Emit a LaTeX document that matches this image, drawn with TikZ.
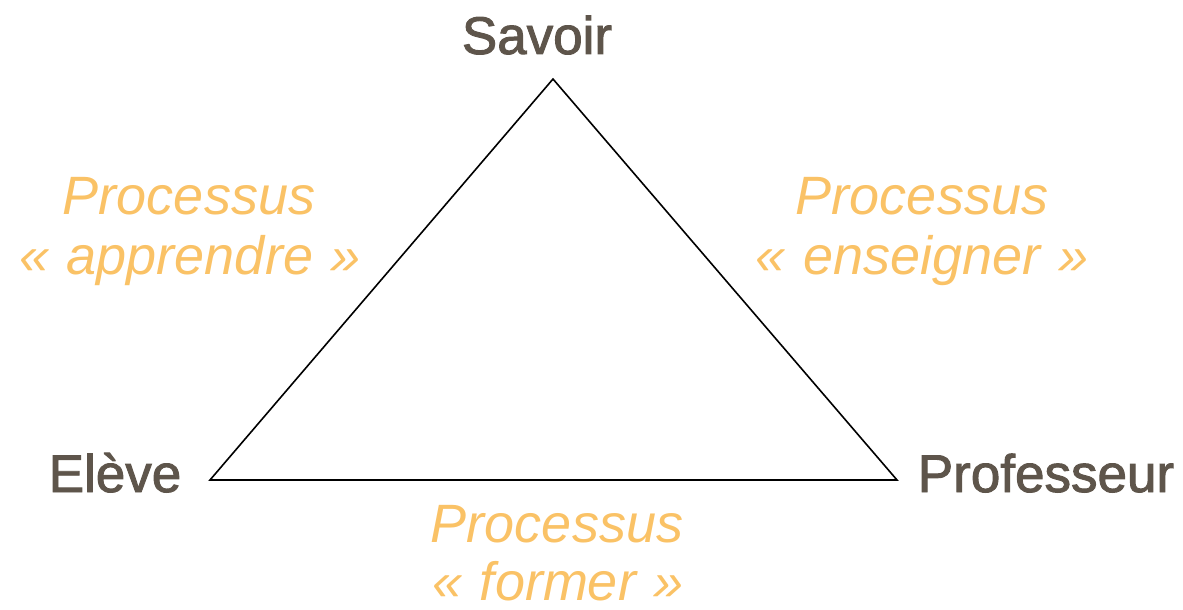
\documentclass[tikz,border=0pt]{standalone}
\usepackage{fontspec}
\setmainfont{Liberation Sans}
\newfontfamily\vfont[FakeBold=1.8]{Liberation Sans}
\definecolor{vertex}{HTML}{5E554B}
\definecolor{proc}{HTML}{FAC266}
\newcommand{\gsp}{\hspace{0.33em}}
\begin{document}
\begin{tikzpicture}[x=1pt,y=-1pt,
  vlabel/.style={anchor=base,text=vertex,font=\vfont\fontsize{53}{60}\selectfont,inner sep=0pt},
  plabel/.style={anchor=base,text=proc,font=\fontsize{54}{60}\selectfont\itshape,inner sep=0pt},
  edge/.style={draw=black,line width=1.6pt,line join=miter}]
\useasboundingbox (0,0) rectangle (1183,610);
\coordinate (S) at (553,79);
\coordinate (E) at (210,480);
\coordinate (P) at (897,480);
\draw[edge] (S) -- (E) -- (P) -- cycle;
\node[vlabel] (savoir) at (537,54) {Savoir};
\node[vlabel] (eleve) at (115,492) {Elève};
\node[vlabel] (prof) at (1046,492) {Professeur};
\node[plabel] (pa1) at (189,214) {Processus};
\node[plabel] (pa2) at (190,274) {«\gsp apprendre\gsp »};
\node[plabel] (pe1) at (922,214) {Processus};
\node[plabel] (pe2) at (922,274) {«\gsp enseigner\gsp »};
\node[plabel] (pf1) at (557,542) {Processus};
\node[plabel,text depth=0pt] (pf2) at (558,600) {«\gsp former\gsp »};
\end{tikzpicture}
\end{document}
